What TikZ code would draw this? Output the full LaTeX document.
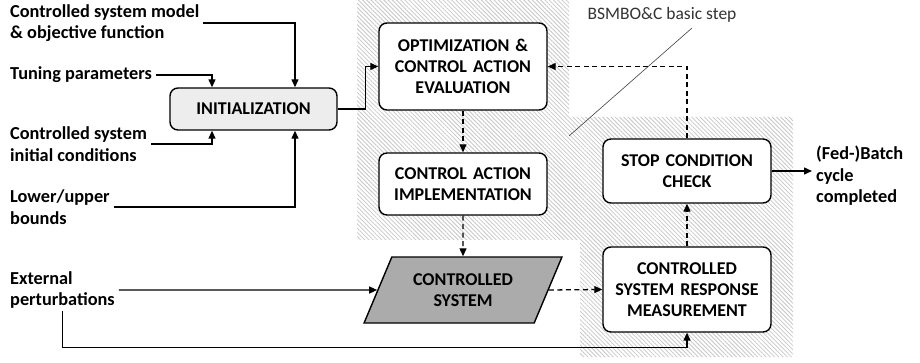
\documentclass[tikz,border=0pt]{standalone}
\usepackage{fontspec}
\setmainfont{Carlito}
\usetikzlibrary{arrows.meta,patterns.meta,shapes.geometric}
\tikzset{
  box/.style={draw, line width=1.4pt, rounded corners=8pt, align=center, fill=white,
    font=\bfseries\fontsize{18}{21}\selectfont, text width=165pt, inner sep=0pt},
  lbl/.style={align=left, anchor=west, font=\bfseries\fontsize{18.3}{21.5}\selectfont, inner xsep=4pt, inner ysep=2pt},
  arr/.style={line width=1.3pt, -{Triangle[length=8pt,width=7pt]}},
  darr/.style={arr, dash pattern=on 5pt off 3.5pt},
}
\begin{document}
\begin{tikzpicture}[x=1pt,y=-1pt]
\useasboundingbox (0,0) rectangle (920,363);
% hatched region
\path[pattern={Lines[angle=-45,distance=3pt,line width=0.8pt]}, pattern color=black!22]
  (357,0) -- (569,0) -- (569,117) -- (793,117) -- (793,357) -- (580,357) -- (580,240) -- (357,240) -- cycle;
% boxes
\node[box, fill=black!7, minimum width=167pt, minimum height=42pt] (init) at (253.5,109) {INITIALIZATION};
\node[box, minimum width=168pt, minimum height=87pt] (opt) at (463,66.5) {OPTIMIZATION \&\\CONTROL ACTION\\EVALUATION};
\node[box, minimum width=168pt, minimum height=62pt] (impl) at (463,184) {CONTROL ACTION\\IMPLEMENTATION};
\node[draw, line width=1.4pt, fill=black!33, trapezium, trapezium left angle=59.4, trapezium right angle=120.6,
  trapezium stretches=true, minimum width=198pt, minimum height=66pt, align=center, inner sep=0pt,
  font=\bfseries\fontsize{18}{21}\selectfont] (sys) at (463,290) {CONTROLLED\\SYSTEM};
\node[box, minimum width=168pt, minimum height=64pt] (stop) at (687,171) {STOP CONDITION\\CHECK};
\node[box, minimum width=168pt, minimum height=85pt] (resp) at (687,289.5) {CONTROLLED\\SYSTEM RESPONSE\\MEASUREMENT};
% labels
\node[lbl] (model) at (6,23) {Controlled system model\\\& objective function};
\node[lbl] (tune) at (6,75) {Tuning parameters};
\node[lbl] (ic) at (6,144) {Controlled system\\initial conditions};
\node[lbl] (lub) at (6,207) {Lower/upper\\bounds};
\node[lbl] (ext) at (6,290) {External\\perturbations};
\node[lbl] (fed) at (812,176) {(Fed-)Batch\\cycle\\completed};
\node[font=\fontsize{17.5}{20}\selectfont, text=black!80, inner sep=0pt] (bs) at (662,15) {BSMBO\&C basic step};
\coordinate (d1) at (569,136);
\coordinate (d2) at (692,28);
\draw[line width=0.6pt, black!75] (d1) -- (d2);
% connectors
\draw[arr] (model.east) -| ([xshift=41.5pt]init.north);
\draw[arr] (tune.east) -| ([xshift=-41.5pt]init.north);
\draw[arr] (ic.east) -| ([xshift=-41.5pt]init.south);
\draw[arr] (lub.east) -| ([xshift=41.5pt]init.south);
\draw[arr] (init.east) -- ++(28,0) |- (opt.west);
\draw[darr] (opt.south) -- (impl.north);
\draw[darr] (impl.south) -- (sys.north);
\draw[arr] (ext.east) -- (sys.west);
\draw[arr] (ext.south) |- ([yshift=-15pt]resp.south) -- (resp.south);
\draw[darr] (sys.east) -- (resp.west);
\draw[darr] (resp.north) -- (stop.south);
\draw[darr] (stop.north) |- (opt.east);
\draw[arr] (stop.east) -- (fed.west |- stop.east);
\end{tikzpicture}
\end{document}
